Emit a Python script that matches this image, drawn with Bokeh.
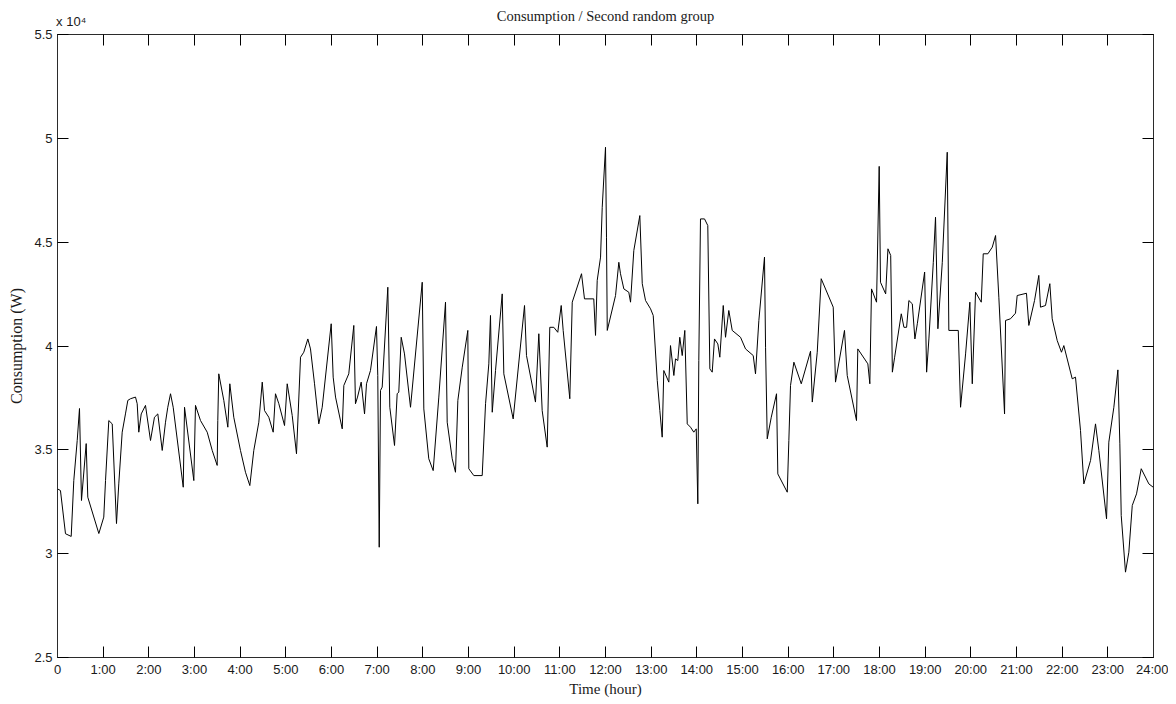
from bokeh.plotting import figure
from bokeh.models import Range1d, FixedTicker, LinearAxis
from bokeh.embed import file_html
from bokeh.resources import INLINE

# ---- data (time in minutes since 0:00, consumption in W) ----
time_min = [
    0, 3.9, 10.5, 18, 21.4, 25.9, 28.9, 31.5, 37.7, 39.8, 54.3, 60.8, 63.1, 67.4, 71.9,
    77.5, 80.5, 85, 89.3, 92.4, 95.9, 102.5, 104.7, 106.8, 110, 115.6, 122.2, 127.4,
    131.8, 137.6, 141.9, 144.9, 148.5, 152, 165.2, 166.9, 179.1, 181.3, 187.9, 196.7,
    203.3, 209.8, 210.6, 211.9, 218.5, 223.8, 226.4, 231.6, 240.4, 247, 252.7, 257.9,
    264.5, 269, 272, 277.6, 283.4, 286.4, 290.8, 298.3, 301.8, 308.4, 314, 319.3, 323.6,
    328.9, 332.4, 337.7, 343.3, 347.8, 359.6, 362.2, 365.3, 374.1, 376.2, 382.7, 389.3,
    391.5, 394.2, 399, 403.4, 406, 411.2, 419.1, 420.8, 422.7, 424.4, 426.6, 434, 436.6,
    442.8, 446.3, 448.4, 451.6, 455.9, 463.8, 479.2, 481.3, 487.8, 493.6, 501, 509.8,
    512, 518.6, 522.9, 526, 531.8, 539.1, 540.4, 547, 558, 562.4, 566.7, 568.9, 571.2,
    575.5, 584.3, 586.4, 598.7, 613.6, 616.2, 628, 632.4, 636.8, 643.4, 646.8, 652.1,
    657.3, 661.8, 664.4, 673.1, 676.3, 688.5, 692.4, 704.6, 706.9, 709.1, 713.5, 715.7,
    720, 721.3, 722.3, 733.2, 737.5, 739.7, 744.1, 750.6, 752.9, 757.2, 765.1, 768.3,
    772.6, 779.2, 782.7, 788, 791.4, 794.5, 796.6, 803.2, 805.4, 809.8, 812, 815, 817.6,
    820.8, 824.2, 827.4, 831.7, 836, 839.2, 841.3, 842.6, 844.8, 850.1, 854.4, 857.1,
    860.2, 863.2, 867.6, 870.2, 874.7, 877.7, 882, 886.5, 897.4, 904, 914.1, 917.1,
    921.5, 928.9, 930.3, 932.5, 937.8, 944.7, 946.4, 958.8, 960.9, 963.1, 967.5, 977.2,
    989.4, 991.7, 998.2, 1003.4, 1019.2, 1022.2, 1034, 1037.6, 1049.8, 1051.5, 1064.7,
    1067.3, 1069.5, 1076.1, 1079.6, 1081.3, 1088.1, 1091.1, 1094.7, 1096.9, 1099.9,
    1108.6, 1112.1, 1115.6, 1118.6, 1123.1, 1126.5, 1129.7, 1139.3, 1141.9, 1144.9,
    1150.7, 1153.6, 1156.7, 1162.5, 1169, 1171.1, 1183.5, 1186.5, 1193.1, 1198.7,
    1201.9, 1206.2, 1213.7, 1216.3, 1222.4, 1228.2, 1232.5, 1236.8, 1244.3, 1245.6,
    1252.1, 1258.7, 1260.9, 1273.1, 1276.2, 1283.7, 1289.3, 1291.5, 1298.1, 1303.8,
    1306.9, 1313.5, 1319.1, 1322.2, 1333.2, 1337.5, 1344.1, 1348.5, 1357.3, 1363.8,
    1368.2, 1378.3, 1381.3, 1387.9, 1393.2, 1395.8, 1397.6, 1403.2, 1407.6, 1412.1,
    1417.7, 1423.9, 1433.9, 1439.6,
]
consumption_w = [
    33120, 33040, 30960, 30830, 33520, 35450, 36990, 32560, 35300, 32720, 30970, 31760,
    33520, 36410, 36250, 31450, 33360, 35850, 36730, 37380, 37460, 37540, 37220, 35850,
    36730, 37140, 35450, 36570, 36730, 34970, 36330, 37050, 37700, 37050, 33200, 37050,
    33520, 37140, 36410, 35850, 34970, 34250, 36410, 38660, 37380, 36090, 38180, 36570,
    34970, 33920, 33280, 34970, 36330, 38260, 36890, 36570, 35850, 37700, 37220, 36170,
    38180, 36650, 34810, 39460, 39700, 40340, 39860, 38180, 36250, 37050, 41070, 38500,
    37540, 36010, 38100, 38660, 40990, 37220, 37540, 38260, 36730, 38180, 38820, 40940,
    38580, 30310, 37860, 38020, 42830, 37050, 35210, 37700, 37780, 40420, 39620, 37050,
    43070, 36970, 34570, 34000, 37540, 42110, 36330, 34570, 33920, 37380, 38980, 40750,
    34090, 33760, 33760, 37220, 39140, 41470, 36810, 38820, 42510, 38660, 36490, 41950,
    39540, 37300, 40590, 36890, 35130, 40900, 40900, 40660, 41950, 40750, 37460, 42110,
    43480, 42270, 42270, 40510, 43160, 44280, 46680, 49570, 45240, 40750, 42430, 44030,
    43480, 42750, 42590, 42110, 44600, 46280, 43000, 42190, 41790, 41470, 38340, 36890,
    35610, 38820, 38260, 40020, 38580, 39380, 39300, 40420, 39540, 40750, 36250, 36090,
    35850, 36010, 32400, 39300, 46120, 46120, 45800, 38900, 38740, 40340, 40100, 39460,
    41950, 40420, 41710, 40750, 40420, 39860, 39540, 38660, 41230, 44280, 39940, 35530,
    36570, 37700, 33840, 32960, 35450, 38100, 39220, 38180, 39750, 37300, 39700, 43240,
    41870, 38260, 40750, 38580, 36410, 39860, 39140, 38180, 42750, 42110, 48650, 43070,
    42510, 44680, 44360, 38740, 39460, 41550, 40900, 40900, 42190, 42030, 40340, 41070,
    43560, 38740, 40340, 44030, 46200, 40830, 44030, 49330, 40750, 40750, 37050, 39620,
    42110, 38180, 42590, 42110, 44440, 44440, 44760, 45320, 42350, 36730, 41230, 41310,
    41580, 42430, 42540, 40990, 42190, 43400, 41870, 41950, 43000, 41310, 40260, 39700,
    40020, 38420, 38500, 35930, 33360, 34490, 36250, 34970, 31680, 35370, 37050, 38850,
    35290, 31840, 29110, 30070, 32320, 32880, 34090, 33360, 33200,
]

x_tick_values = [0, 60, 120, 180, 240, 300, 360, 420, 480, 540, 600, 660, 720, 780, 840,
                 900, 960, 1020, 1080, 1140, 1200, 1260, 1320, 1380, 1440]
x_tick_labels = ["0", "1:00", "2:00", "3:00", "4:00", "5:00", "6:00", "7:00", "8:00",
                 "9:00", "10:00", "11:00", "12:00", "13:00", "14:00", "15:00", "16:00",
                 "17:00", "18:00", "19:00", "20:00", "21:00", "22:00", "23:00", "24:00"]
y_tick_values = [25000, 30000, 35000, 40000, 45000, 50000, 55000]
y_tick_labels = ["2.5", "3", "3.5", "4", "4.5", "5", "5.5"]

title_text = "Consumption / Second random group"
x_label_text = "Time (hour)"
y_label_text = "Consumption (W)"
exponent_text = "x 10\u2074"
exponent_pos_min = 18

SERIF = "Liberation Serif"
SANS = "Liberation Sans"
AX_COLOR = "#2b2b2b"
TXT = "#1a1a1a"

p = figure(width=1168, height=700, output_backend="svg", toolbar_location=None,
           title=None,
           x_range=Range1d(0, 1440), y_range=Range1d(25000, 55000),
           min_border_left=57, min_border_right=15, min_border_top=34,
           min_border_bottom=43, x_axis_type=None, y_axis_type=None)
p.background_fill_color = "white"
p.border_fill_color = "white"
p.outline_line_color = AX_COLOR
p.outline_line_width = 1
p.xgrid.visible = False
p.ygrid.visible = False


def tick_axis(ticks):
    ax = LinearAxis(ticker=FixedTicker(ticks=ticks))
    ax.axis_line_color = AX_COLOR
    ax.major_tick_line_color = "black"
    ax.major_tick_in = 11
    ax.major_tick_out = 0
    ax.minor_tick_line_color = None
    return ax


def hide_labels(ax):
    ax.major_label_text_font_size = "1px"
    ax.major_label_text_color = None
    ax.major_label_standoff = 0


# bottom axis with hour labels
bottom = tick_axis(x_tick_values)
bottom.major_label_overrides = {v: s for v, s in zip(x_tick_values, x_tick_labels)}
bottom.major_label_text_font = SANS
bottom.major_label_text_font_size = "13px"
bottom.major_label_text_color = TXT
bottom.major_label_standoff = 4
bottom.axis_label = x_label_text
bottom.axis_label_text_font = SERIF
bottom.axis_label_text_font_size = "15px"
bottom.axis_label_text_font_style = "normal"
bottom.axis_label_text_color = TXT
bottom.axis_label_standoff = 1
p.add_layout(bottom, "below")

# left axis with value labels (x 10^4)
left = tick_axis(y_tick_values)
left.major_label_overrides = {v: s for v, s in zip(y_tick_values, y_tick_labels)}
left.major_label_text_font = SANS
left.major_label_text_font_size = "13px"
left.major_label_text_color = TXT
left.major_label_standoff = 5
left.axis_label = y_label_text
left.axis_label_text_font = SERIF
left.axis_label_text_font_size = "16px"
left.axis_label_text_font_style = "normal"
left.axis_label_text_color = TXT
left.axis_label_standoff = 6
p.add_layout(left, "left")

# top box ticks
top = tick_axis(x_tick_values)
hide_labels(top)
p.add_layout(top, "above")

# exponent marker + title above the box
top_text = LinearAxis(ticker=FixedTicker(ticks=[exponent_pos_min]))
top_text.axis_line_color = None
top_text.major_tick_line_color = None
top_text.minor_tick_line_color = None
top_text.major_label_overrides = {exponent_pos_min: exponent_text}
top_text.major_label_text_font = SANS
top_text.major_label_text_font_size = "13px"
top_text.major_label_text_color = TXT
top_text.major_label_standoff = 0
top_text.axis_label = title_text
top_text.axis_label_text_font = SERIF
top_text.axis_label_text_font_size = "14.5px"
top_text.axis_label_text_font_style = "normal"
top_text.axis_label_text_color = TXT
top_text.axis_label_standoff = -13
p.add_layout(top_text, "above")

# right box ticks
right = tick_axis(y_tick_values)
hide_labels(right)
p.add_layout(right, "right")

p.line(time_min, consumption_w, line_color="black", line_width=1)

open("out.html", "w").write(file_html(p, INLINE))
